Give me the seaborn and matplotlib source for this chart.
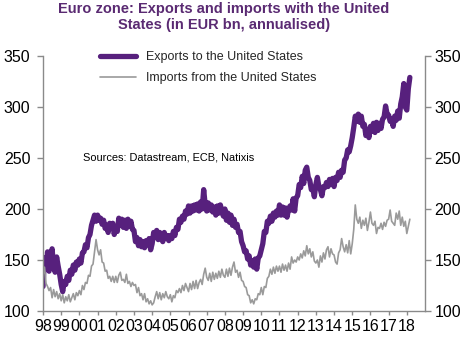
import numpy as np
import pandas as pd
import matplotlib
matplotlib.use("Agg")
import matplotlib.pyplot as plt
import seaborn as sns

# ---- data (monthly, Jan 1998 - Mar 2018, EUR bn annualised) ----
exports = [
    124, 152, 141, 158, 139, 152, 161, 143, 138, 153, 144, 136,   # 1998
    126, 119, 129, 126, 134, 130, 140, 136, 145, 140, 148, 145,   # 1999
    151, 147, 157, 158, 165, 162, 172, 175, 184, 189, 194, 188,   # 2000
    194, 189, 191, 185, 189, 181, 184, 177, 186, 182, 186, 175,   # 2001
    182, 178, 191, 184, 190, 182, 189, 181, 190, 183, 188, 180,   # 2002
    179, 168, 172, 164, 170, 163, 168, 162, 169, 165, 171, 160,   # 2003
    166, 177, 172, 179, 170, 177, 172, 168, 177, 171, 174, 169,   # 2004
    174, 171, 178, 174, 182, 180, 190, 187, 193, 190, 198, 195,   # 2005
    203, 196, 203, 198, 204, 199, 205, 198, 207, 200, 219, 204,   # 2006
    198, 206, 199, 204, 197, 202, 194, 203, 196, 204, 198, 193,   # 2007
    200, 189, 196, 187, 194, 184, 190, 182, 185, 177, 178, 168,   # 2008
    164, 158, 159, 151, 154, 145, 149, 143, 151, 141, 152, 154,   # 2009
    160, 166, 178, 177, 188, 186, 193, 188, 196, 192, 198, 194,   # 2010
    204, 194, 202, 194, 201, 192, 200, 203, 199, 210, 198, 211,   # 2011
    213, 224, 221, 232, 225, 238, 241, 231, 228, 219, 220, 212,   # 2012
    224, 231, 222, 219, 213, 222, 221, 226, 222, 229, 224, 230,   # 2013
    222, 231, 228, 236, 231, 238, 236, 248, 250, 258, 256, 262,   # 2014
    270, 280, 291, 286, 293, 285, 291, 281, 283, 272, 278, 270,   # 2015
    281, 276, 284, 275, 285, 277, 284, 279, 288, 290, 301, 293,   # 2016
    292, 286, 288, 281, 291, 287, 296, 289, 303, 310, 323, 300,   # 2017
    297, 318, 329,                                                 # 2018
]
imports = [
    135, 143, 127, 124, 120, 123, 113, 121, 114, 119, 112, 117,   # 1998
    110, 116, 108, 114, 110, 116, 109, 113, 117, 111, 118, 115,   # 1999
    120, 116, 125, 121, 128, 127, 135, 134, 144, 146, 158, 170,   # 2000
    160, 155, 160, 148, 147, 139, 140, 132, 134, 129, 134, 128,   # 2001
    134, 128, 135, 138, 130, 131, 128, 136, 127, 129, 124, 128,   # 2002
    125, 126, 118, 123, 115, 117, 111, 117, 109, 112, 107, 110,   # 2003
    106, 108, 114, 119, 112, 118, 111, 117, 113, 119, 114, 112,   # 2004
    116, 109, 115, 113, 120, 118, 122, 118, 125, 120, 127, 123,   # 2005
    119, 127, 121, 129, 122, 130, 122, 128, 131, 126, 136, 142,   # 2006
    133, 130, 137, 129, 138, 131, 137, 132, 139, 133, 141, 135,   # 2007
    133, 141, 134, 142, 135, 143, 148, 138, 140, 133, 138, 130,   # 2008
    129, 124, 123, 116, 115, 108, 111, 107, 112, 111, 117, 116,   # 2009
    123, 116, 124, 123, 132, 134, 141, 136, 143, 137, 144, 139,   # 2010
    144, 138, 146, 140, 145, 139, 147, 141, 153, 147, 150, 148,   # 2011
    153, 150, 156, 152, 159, 154, 164, 156, 161, 153, 158, 149,   # 2012
    147, 150, 143, 154, 148, 157, 151, 160, 163, 153, 161, 156,   # 2013
    155, 148, 146, 157, 160, 171, 163, 158, 165, 157, 169, 156,   # 2014
    166, 180, 204, 190, 186, 192, 181, 189, 184, 191, 179, 187,   # 2015
    197, 186, 184, 188, 176, 182, 181, 186, 180, 187, 183, 189,   # 2016
    190, 199, 188, 186, 184, 196, 190, 198, 184, 192, 183, 188,   # 2017
    176, 183, 190,                                                 # 2018
]
tick_years = list(range(1998, 2019))
tick_labels = ["98", "99", "00", "01", "02", "03", "04", "05", "06", "07",
               "08", "09", "10", "11", "12", "13", "14", "15", "16", "17", "18"]
y_ticks = [100, 150, 200, 250, 300, 350]
series_names = ["Exports to the United States", "Imports from the United States"]

dates = pd.date_range("1998-01-01", periods=len(exports), freq="MS")
t = dates.year + (dates.month - 1) / 12.0
df = pd.DataFrame({"t": t, "exports": exports, "imports": imports})

PURPLE = "#57207d"
TITLE_PURPLE = "#5a2a72"
GRAY = "#9a9a9a"
SPINE = "#8a8a8a"

sns.set_style("ticks")
plt.rcParams["font.family"] = ["Liberation Sans", "DejaVu Sans"]

fig = plt.figure(figsize=(4.76, 3.43), dpi=100)
ax = fig.add_axes([43 / 476, 1 - 311 / 343, (425 - 43) / 476, (311 - 56) / 343])

sns.lineplot(data=df, x="t", y="exports", ax=ax, color=PURPLE, linewidth=3.8,
             label=series_names[0])
sns.lineplot(data=df, x="t", y="imports", ax=ax, color=GRAY, linewidth=1.2,
             label=series_names[1])

ax.set_xlim(1998, 2019)
ax.set_ylim(100, 350)
ax.set_xticks(tick_years)
ax.set_xticklabels(tick_labels)
ax.set_yticks(y_ticks)
ax.set_xlabel("")
ax.set_ylabel("")

ax2 = ax.twinx()
ax2.set_ylim(100, 350)
ax2.set_yticks(y_ticks)

for a in (ax, ax2):
    a.spines["top"].set_visible(False)
    for s in ("left", "right", "bottom"):
        a.spines[s].set_color(SPINE)
        a.spines[s].set_linewidth(1.0)
ax.spines["right"].set_visible(False)
ax2.spines["left"].set_visible(False)
ax2.spines["bottom"].set_visible(False)

ax.tick_params(axis="x", direction="out", length=3, width=1, color=SPINE,
               labelsize=11.5, pad=3, labelcolor="black")
ax.tick_params(axis="y", direction="out", length=4, width=1, color=SPINE,
               labelsize=11.5, pad=5, labelcolor="black")
ax2.tick_params(axis="y", direction="out", length=4, width=1, color=SPINE,
                labelsize=11.5, pad=3, labelcolor="black")

leg = ax.legend(loc="upper left", bbox_to_anchor=(100 / 476, 1 - 51 / 343),
                bbox_transform=fig.transFigure, frameon=False, fontsize=9,
                handlelength=2.9, handletextpad=0.75, labelspacing=0.75,
                borderpad=0, borderaxespad=0)

fig.text(83 / 476, 1 - 158 / 343, "Sources: Datastream, ECB, Natixis",
         fontsize=7.9, va="center", ha="left", color="black")

fig.text(224 / 476, 1 - 2 / 343,
         "Euro zone: Exports and imports with the United\nStates (in EUR bn, annualised)",
         ha="center", va="top", fontsize=10.5, fontweight="bold",
         color=TITLE_PURPLE, linespacing=1.2)

fig.savefig("out.png", dpi=100)
